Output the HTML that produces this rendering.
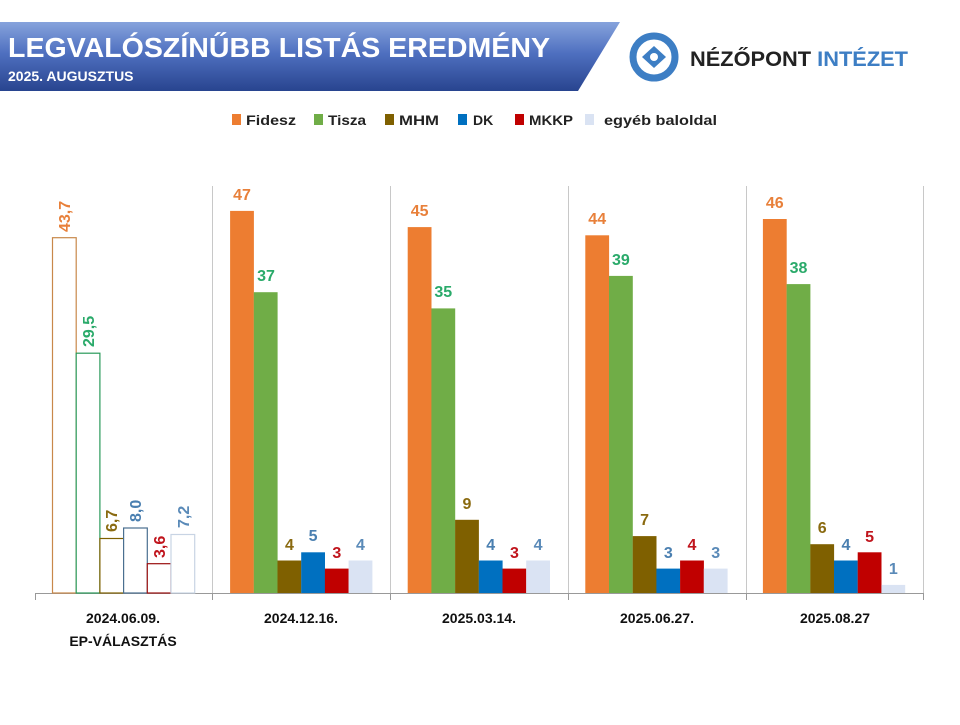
<!DOCTYPE html>
<html><head><meta charset="utf-8"><style>
body{margin:0;background:#fff;width:960px;height:720px;overflow:hidden}
text{font-family:"Liberation Sans",sans-serif}
</style></head><body>
<svg width="960" height="720" viewBox="0 0 960 720" xmlns="http://www.w3.org/2000/svg">
<defs><linearGradient id="bg" x1="0" y1="0" x2="0" y2="1"><stop offset="0" stop-color="#86a3dc"/><stop offset="0.45" stop-color="#4f70c0"/><stop offset="1" stop-color="#28448f"/></linearGradient></defs>
<polygon points="0,22 620,22 578,91 0,91" fill="url(#bg)"/>
<text x="8" y="57" font-size="28" font-weight="bold" fill="#fff" textLength="542" lengthAdjust="spacingAndGlyphs">LEGVALÓSZÍNŰBB LISTÁS EREDMÉNY</text>
<text x="8" y="81" font-size="14" font-weight="bold" fill="#fff">2025. AUGUSZTUS</text>
<circle cx="654" cy="57" r="21" fill="none" stroke="#3d7ec4" stroke-width="7"/>
<polygon points="642,57 654,46 666,57 654,68" fill="#3d7ec4"/>
<circle cx="654" cy="57" r="4" fill="#fff"/>
<text x="690" y="66" font-size="21" font-weight="bold" fill="#222" textLength="218" lengthAdjust="spacingAndGlyphs">NÉZŐPONT <tspan fill="#3d7ec4">INTÉZET</tspan></text>
<g font-size="14" font-weight="bold" fill="#222">
<rect x="232" y="114" width="9" height="11" fill="#ed7d31"/><text x="246" y="125" textLength="50" lengthAdjust="spacingAndGlyphs">Fidesz</text>
<rect x="314" y="114" width="9" height="11" fill="#70ad47"/><text x="328" y="125" textLength="38" lengthAdjust="spacingAndGlyphs">Tisza</text>
<rect x="385" y="114" width="9" height="11" fill="#7f6000"/><text x="399" y="125" textLength="40" lengthAdjust="spacingAndGlyphs">MHM</text>
<rect x="458" y="114" width="9" height="11" fill="#0070c0"/><text x="473" y="125">DK</text>
<rect x="515" y="114" width="9" height="11" fill="#c00000"/><text x="529" y="125" textLength="44" lengthAdjust="spacingAndGlyphs">MKKP</text>
<rect x="585" y="114" width="9" height="11" fill="#dae3f3"/><text x="604" y="125" textLength="113" lengthAdjust="spacingAndGlyphs">egyéb baloldal</text>
</g>
<g stroke="#c8c8c8" stroke-width="1">
<line x1="212.5" y1="186" x2="212.5" y2="593"/><line x1="390.5" y1="186" x2="390.5" y2="593"/><line x1="568.5" y1="186" x2="568.5" y2="593"/><line x1="746.5" y1="186" x2="746.5" y2="593"/><line x1="923.5" y1="186" x2="923.5" y2="593"/>
</g>
<g stroke="#999" stroke-width="1">
<line x1="35" y1="593.5" x2="924" y2="593.5"/>
<line x1="35.5" y1="593" x2="35.5" y2="600"/><line x1="212.5" y1="593" x2="212.5" y2="600"/><line x1="390.5" y1="593" x2="390.5" y2="600"/><line x1="568.5" y1="593" x2="568.5" y2="600"/><line x1="746.5" y1="593" x2="746.5" y2="600"/><line x1="923.5" y1="593" x2="923.5" y2="600"/>
</g>
<g fill="#fff" stroke-width="1.2">
<rect x="52.5" y="237.7" width="23.7" height="355.3" stroke="#c8884a"/>
<rect x="76.2" y="353.2" width="23.7" height="239.8" stroke="#2a9a5a"/>
<rect x="99.9" y="538.5" width="23.7" height="54.5" stroke="#7f6000"/>
<rect x="123.6" y="528" width="23.7" height="65" stroke="#4a6f90"/>
<rect x="147.3" y="563.7" width="23.7" height="29.3" stroke="#9a1010"/>
<rect x="171" y="534.5" width="23.7" height="58.5" stroke="#c8d4e4"/>
</g>
<g font-size="16" font-weight="bold">
<text transform="translate(70,232) rotate(-90)" fill="#e8803a">43,7</text>
<text transform="translate(94,347) rotate(-90)" fill="#2aaa6a">29,5</text>
<text transform="translate(117,532) rotate(-90)" fill="#8a6a10">6,7</text>
<text transform="translate(141,522) rotate(-90)" fill="#4a7fb0">8,0</text>
<text transform="translate(165,558) rotate(-90)" fill="#c0141c">3,6</text>
<text transform="translate(189,528) rotate(-90)" fill="#5a8ab8">7,2</text>
</g>
<g>
<rect x="230.1" y="210.9" width="23.8" height="382.1" fill="#ed7d31"/><rect x="253.8" y="292.2" width="23.8" height="300.8" fill="#70ad47"/><rect x="277.5" y="560.5" width="23.8" height="32.5" fill="#7f6000"/><rect x="301.2" y="552.3" width="23.8" height="40.7" fill="#0070c0"/><rect x="324.9" y="568.6" width="23.8" height="24.4" fill="#c00000"/><rect x="348.6" y="560.5" width="23.8" height="32.5" fill="#dae3f3"/>
<rect x="407.7" y="227.1" width="23.8" height="365.9" fill="#ed7d31"/><rect x="431.4" y="308.4" width="23.8" height="284.6" fill="#70ad47"/><rect x="455.1" y="519.8" width="23.8" height="73.2" fill="#7f6000"/><rect x="478.8" y="560.5" width="23.8" height="32.5" fill="#0070c0"/><rect x="502.5" y="568.6" width="23.8" height="24.4" fill="#c00000"/><rect x="526.2" y="560.5" width="23.8" height="32.5" fill="#dae3f3"/>
<rect x="585.3" y="235.3" width="23.8" height="357.7" fill="#ed7d31"/><rect x="609" y="275.9" width="23.8" height="317.1" fill="#70ad47"/><rect x="632.7" y="536.1" width="23.8" height="56.9" fill="#7f6000"/><rect x="656.4" y="568.6" width="23.8" height="24.4" fill="#0070c0"/><rect x="680.1" y="560.5" width="23.8" height="32.5" fill="#c00000"/><rect x="703.8" y="568.6" width="23.8" height="24.4" fill="#dae3f3"/>
<rect x="762.9" y="219" width="23.8" height="374" fill="#ed7d31"/><rect x="786.6" y="284.1" width="23.8" height="308.9" fill="#70ad47"/><rect x="810.3" y="544.2" width="23.8" height="48.8" fill="#7f6000"/><rect x="834" y="560.5" width="23.8" height="32.5" fill="#0070c0"/><rect x="857.7" y="552.3" width="23.8" height="40.7" fill="#c00000"/><rect x="881.4" y="584.9" width="23.8" height="8.1" fill="#dae3f3"/>
</g>
<g font-size="16" font-weight="bold" text-anchor="middle">
<text x="242" y="200" fill="#e8803a">47</text><text x="266" y="281" fill="#2aaa6a">37</text><text x="289.4" y="550" fill="#8a6a10">4</text><text x="313.1" y="541" fill="#4a7fb0">5</text><text x="336.8" y="558" fill="#c0141c">3</text><text x="360.5" y="550" fill="#5a8ab8">4</text>
<text x="419.6" y="216" fill="#e8803a">45</text><text x="443.3" y="297" fill="#2aaa6a">35</text><text x="467" y="509" fill="#8a6a10">9</text><text x="490.7" y="550" fill="#4a7fb0">4</text><text x="514.4" y="558" fill="#c0141c">3</text><text x="538.1" y="550" fill="#5a8ab8">4</text>
<text x="597.2" y="224" fill="#e8803a">44</text><text x="620.9" y="265" fill="#2aaa6a">39</text><text x="644.6" y="525" fill="#8a6a10">7</text><text x="668.3" y="558" fill="#4a7fb0">3</text><text x="692" y="550" fill="#c0141c">4</text><text x="715.7" y="558" fill="#5a8ab8">3</text>
<text x="774.8" y="208" fill="#e8803a">46</text><text x="798.5" y="273" fill="#2aaa6a">38</text><text x="822.2" y="533" fill="#8a6a10">6</text><text x="845.9" y="550" fill="#4a7fb0">4</text><text x="869.6" y="542" fill="#c0141c">5</text><text x="893.3" y="574" fill="#5a8ab8">1</text>
</g>
<g font-size="14" font-weight="bold" text-anchor="middle" fill="#111">
<text x="123" y="623">2024.06.09.</text><text x="123" y="646">EP-VÁLASZTÁS</text>
<text x="301" y="623">2024.12.16.</text><text x="479" y="623">2025.03.14.</text><text x="657" y="623">2025.06.27.</text><text x="835" y="623">2025.08.27</text>
</g>
</svg>
</body></html>
